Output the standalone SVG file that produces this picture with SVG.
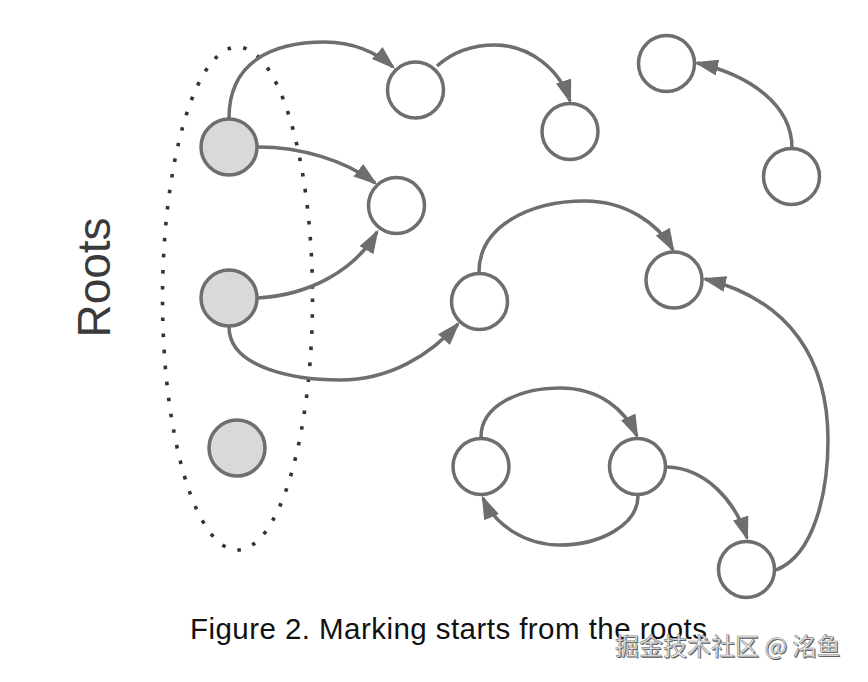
<svg xmlns="http://www.w3.org/2000/svg" width="868" height="682" viewBox="0 0 868 682">
<style>
.node{fill:#ffffff;stroke:#6e6e6e;stroke-width:3.5}
.root{fill:#d9d9d9;stroke:#6e6e6e;stroke-width:3.5}
.edge{fill:none;stroke:#6e6e6e;stroke-width:3.5;marker-end:url(#arr)}
.cap{font-family:"Liberation Sans",Arial,sans-serif;fill:#111}
</style>
<defs>
<marker id="arr" markerUnits="userSpaceOnUse" markerWidth="24" markerHeight="16" refX="21" refY="8" orient="auto">
<path d="M0,0 L24,8 L0,16 z" fill="#6e6e6e"/>
</marker>
</defs>
<rect width="868" height="682" fill="#ffffff"/>
<ellipse id="roots-set" cx="237.5" cy="298.5" rx="75" ry="251.5" fill="none" stroke="#333333" stroke-width="3.6" stroke-dasharray="3.6 12.4"/>
<text class="cap" transform="translate(110,277.5) rotate(-90)" text-anchor="middle" font-size="46" style="fill:#3a3a3a">Roots</text>
<g id="connectors">
<path class="edge" d="M229,118 C229,62 272,42 325,42 C352,42 376,52 393,67"/>
<path class="edge" d="M258,147 C300,147 345,160 375,183"/>
<path class="edge" d="M258,298 C310,295 355,270 377,232"/>
<path class="edge" d="M229,327 C229,368 295,380 340,380 C390,380 430,355 458,324"/>
<path class="edge" d="M479,272 C479,226 530,201 585,201 C625,201 658,223 673,250"/>
<path class="edge" d="M776,570 C815,555 828,490 828,440 C828,360 790,300 705,279"/>
<path class="edge" d="M481,437 C481,405 520,388 560,388 C600,388 625,410 637,436"/>
<path class="edge" d="M638,496 C638,525 600,545 560,545 C525,545 495,525 483,498"/>
<path class="edge" d="M667,467 C705,468 735,500 747,538"/>
<path class="edge" d="M437,66 C455,50 475,45 495,45 C530,45 560,70 570,101"/>
<path class="edge" d="M792,148 C792,105 750,75 697,63"/>
</g>
<g id="root1"><circle class="root" cx="229" cy="147" r="28"/></g>
<g id="root2"><circle class="root" cx="229" cy="298" r="28"/></g>
<g id="root3"><circle class="root" cx="237" cy="448" r="28"/></g>
<g id="nodeA"><circle class="node" cx="415.5" cy="90" r="28"/></g>
<g id="nodeB"><circle class="node" cx="396.5" cy="205.5" r="28"/></g>
<g id="nodeC"><circle class="node" cx="570" cy="131.5" r="28"/></g>
<g id="nodeD"><circle class="node" cx="666.5" cy="63.5" r="28"/></g>
<g id="nodeE"><circle class="node" cx="791.5" cy="176.5" r="28"/></g>
<g id="nodeF"><circle class="node" cx="479.5" cy="301.5" r="28"/></g>
<g id="nodeG"><circle class="node" cx="674" cy="280" r="28"/></g>
<g id="nodeH"><circle class="node" cx="481" cy="466.5" r="28"/></g>
<g id="nodeI"><circle class="node" cx="637.5" cy="466.5" r="28"/></g>
<g id="nodeJ"><circle class="node" cx="746.5" cy="569.5" r="28"/></g>
<text class="cap" x="190" y="639" font-size="29.5" textLength="517" lengthAdjust="spacing">Figure 2. Marking starts from the roots</text>
<g id="watermark" font-family="'Noto Sans CJK SC',sans-serif" font-size="24">
<text x="616" y="656" fill="#555555">掘金技术社区 @ 洺鱼</text>
<text x="615" y="655" fill="#eeeeee" stroke="#8a8a8a" stroke-width="0.6">掘金技术社区 @ 洺鱼</text>
</g>
</svg>
